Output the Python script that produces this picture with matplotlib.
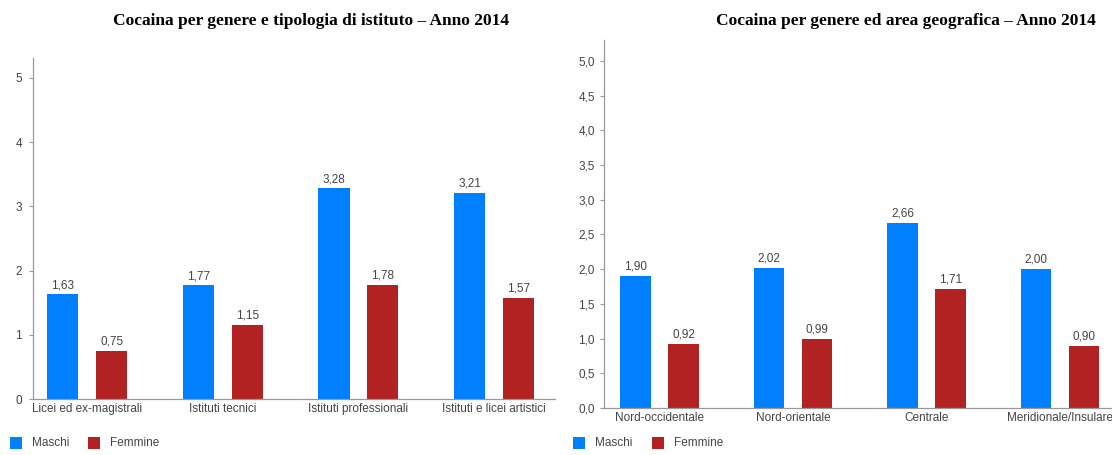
import matplotlib
matplotlib.use("Agg")
import matplotlib.pyplot as plt
from matplotlib.patches import Rectangle

title_left = "Cocaina per genere e tipologia di istituto – Anno 2014"
cats_left = ["Licei ed ex-magistrali", "Istituti tecnici", "Istituti professionali", "Istituti e licei artistici"]
maschi_left = [1.63, 1.77, 3.28, 3.21]
femmine_left = [0.75, 1.15, 1.78, 1.57]
yticks_left = [0, 1, 2, 3, 4, 5]

title_right = "Cocaina per genere ed area geografica – Anno 2014"
cats_right = ["Nord-occidentale", "Nord-orientale", "Centrale", "Meridionale/Insulare"]
maschi_right = [1.90, 2.02, 2.66, 2.00]
femmine_right = [0.92, 0.99, 1.71, 0.90]
yticks_right = [0.0, 0.5, 1.0, 1.5, 2.0, 2.5, 3.0, 3.5, 4.0, 4.5, 5.0]

series_names = ["Maschi", "Femmine"]
c_m = "#0080FF"
c_f = "#B22222"
txt = "#444444"
spine_c = "#999999"

def fmt(v, d):
    return f"{v:.{d}f}".replace(".", ",")

fig = plt.figure(figsize=(11.12, 4.55), dpi=100)
plt.rcParams['font.family'] = ['Liberation Sans', 'DejaVu Sans']

def draw(rect, cats, m, f, yt, ytop, xlim, ydec, ypad, title, title_x, leg_x):
    ax = fig.add_axes(rect)
    x = list(range(len(cats)))
    w = 0.23
    off = 0.18
    ax.bar([i - off for i in x], m, width=w, color=c_m)
    ax.bar([i + off for i in x], f, width=w, color=c_f)
    for i in x:
        ax.text(i - off, m[i] + 0.05, fmt(m[i], 2), ha='center', va='bottom', fontsize=8.5, color=txt)
        ax.text(i + off, f[i] + 0.05, fmt(f[i], 2), ha='center', va='bottom', fontsize=8.5, color=txt)
    ax.set_xlim(*xlim)
    ax.set_ylim(0, ytop)
    ax.set_yticks(yt)
    ax.set_yticklabels([fmt(v, ydec) for v in yt], fontsize=8.5, color=txt)
    ax.set_xticks(x)
    ax.set_xticklabels(cats, fontsize=8.5, color=txt)
    ax.tick_params(axis='x', length=0, pad=3)
    ax.tick_params(axis='y', length=3, color=spine_c, pad=ypad)
    for s in ['top', 'right']:
        ax.spines[s].set_visible(False)
    for s in ['left', 'bottom']:
        ax.spines[s].set_color(spine_c)
        ax.spines[s].set_linewidth(0.9)
    fig.text(title_x, 1 - 21 / 455, title, ha='center', va='center', fontsize=12.5,
             fontweight='bold', family='Liberation Serif', color='black')
    # legend
    y0 = 455 - 449
    for k, (name, col) in enumerate(zip(series_names, [c_m, c_f])):
        lx = leg_x[k]
        fig.add_artist(Rectangle((lx / 1112, y0 / 455), 12 / 1112, 12 / 455,
                                 transform=fig.transFigure, facecolor=col, edgecolor='none'))
        fig.text((lx + 22) / 1112, (y0 + 6) / 455, name, ha='left', va='center', fontsize=8.5, color=txt)
    return ax

draw([33 / 1112, 56 / 455, 522 / 1112, 341 / 455], cats_left, maschi_left, femmine_left,
     yticks_left, 5.31, (-0.4, 3.45), 0, 5, title_left, 311 / 1112, [10, 88])
draw([604 / 1112, 47 / 455, 508 / 1112, 368 / 455], cats_right, maschi_right, femmine_right,
     yticks_right, 5.30, (-0.416, 3.39), 1, 3.5, title_right, 906 / 1112, [573, 652])

fig.savefig("out.png", dpi=100)
